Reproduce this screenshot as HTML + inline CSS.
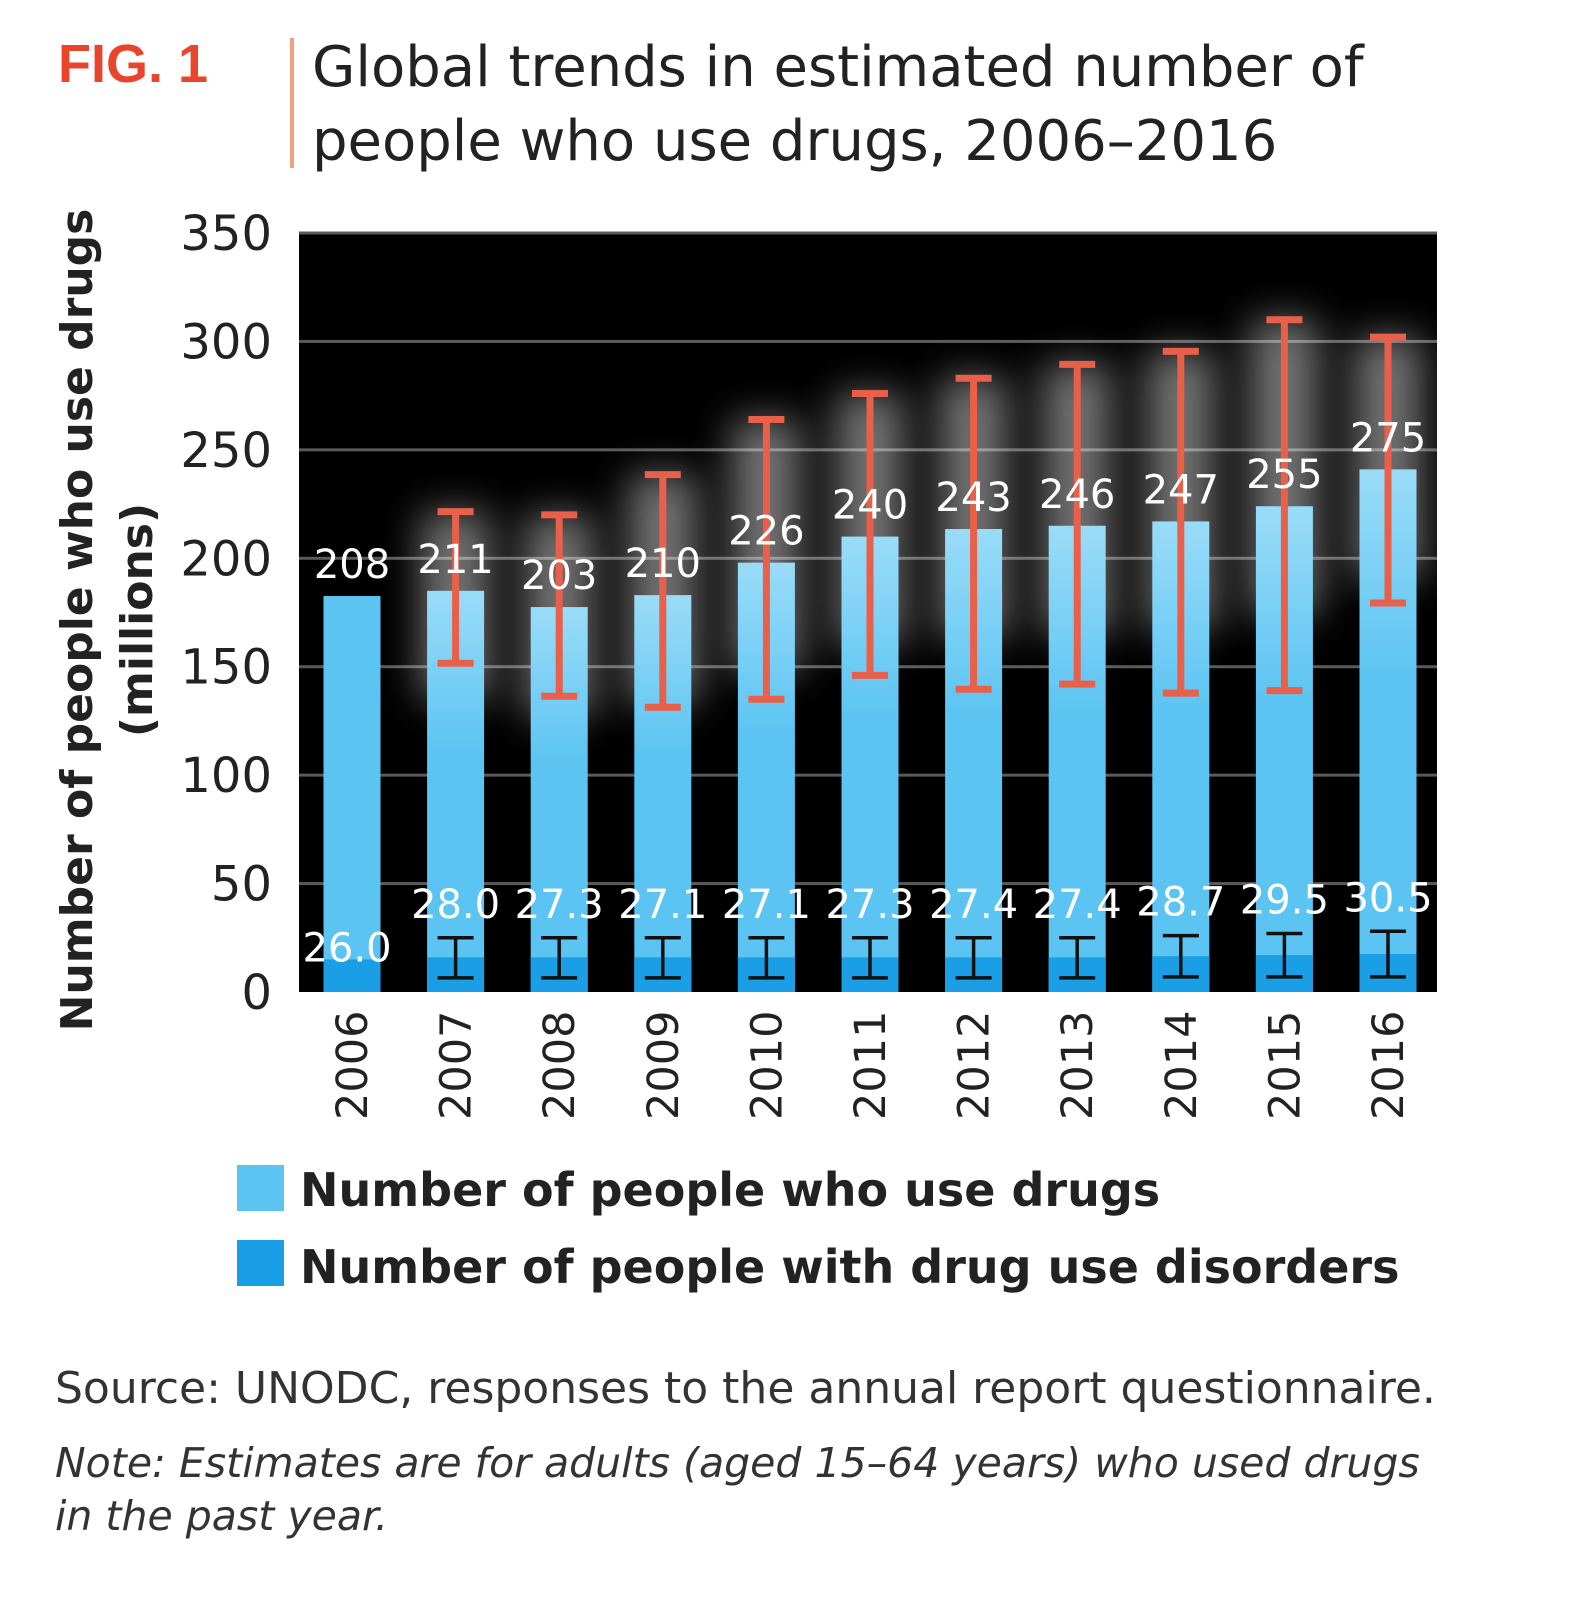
<!DOCTYPE html>
<html><head><meta charset="utf-8">
<style>
body{margin:0;background:#fff;width:1577px;height:1600px;overflow:hidden;font-family:"Liberation Sans",sans-serif;}
svg text{font-family:"DejaVu Sans","Liberation Sans",sans-serif;}
</style></head>
<body>
<svg id="chart" width="1577" height="1600" xmlns="http://www.w3.org/2000/svg">
<defs>
<linearGradient id="barGrad" x1="0" y1="0" x2="0" y2="1">
<stop offset="0" stop-color="#9adcf8"/><stop offset="0.4" stop-color="#5cc4f2"/><stop offset="1" stop-color="#5cc4f2"/>
</linearGradient>
<filter id="glow" x="-100%" y="-100%" width="300%" height="300%"><feGaussianBlur stdDeviation="20"/></filter>
</defs>
<text x="58" y="82" font-size="54" font-weight="bold" fill="#e8452c" style="font-family:'Liberation Sans',sans-serif">FIG. 1</text>
<rect x="290" y="38" width="4" height="130" fill="#f0a080"/>
<text x="312" y="86" font-size="56" fill="#222">Global trends in estimated number of</text>
<text x="312" y="160" font-size="56" fill="#222">people who use drugs, 2006–2016</text>
<rect x="299" y="233" width="1138" height="759" fill="#000"/>
<g id="grid"></g><g id="glows"></g><g id="bars"></g><g id="yticks"></g><g id="xticks"></g>
<text transform="translate(92,620) rotate(-90)" text-anchor="middle" font-size="44" font-weight="bold" fill="#222">Number of people who use drugs</text>
<text transform="translate(152,620) rotate(-90)" text-anchor="middle" font-size="44" font-weight="bold" fill="#222">(millions)</text>
<g>
<rect x="237" y="1165" width="47" height="46" fill="#5cc4f2"/>
<text x="300" y="1206" font-size="46" font-weight="bold" fill="#222">Number of people who use drugs</text>
<rect x="237" y="1240" width="47" height="46" fill="#1a9fe6"/>
<text x="300" y="1283" font-size="46" font-weight="bold" fill="#222">Number of people with drug use disorders</text>
</g>
<text x="55" y="1403" font-size="44" fill="#333">Source: UNODC, responses to the annual report questionnaire.</text>
<text x="55" y="1477" font-size="41" font-style="italic" fill="#333">Note: Estimates are for adults (aged 15–64 years) who used drugs</text>
<text x="55" y="1530" font-size="41" font-style="italic" fill="#333">in the past year.</text>
</svg>
<script>
const years=["2006","2007","2008","2009","2010","2011","2012","2013","2014","2015","2016"];
const usersLabel=["208","211","203","210","226","240","243","246","247","255","275"];
const usersDrawn=[182.6,185,177.5,183,198,210,213.5,215,217,224,241];
const usersHigh=[null,221.5,220,238.6,264,276,283,289.4,295.4,310,302];
const usersLow=[null,151.6,136.4,131.3,135,146,139.6,142,137.8,139,179.4];
const disordersLabel=["26.0","28.0","27.3","27.1","27.1","27.3","27.4","27.4","28.7","29.5","30.5"];
const disordersDrawn=[15,16,16,16,16,16,16,16,16.5,17,17.5];
const disordersHigh=[null,25,25,25,25,25,25,25,26,27,28];
const disordersLow=[null,6.5,6.5,6.5,6.5,6.5,6.5,6.5,7,7,7];
const yTicks=[0,50,100,150,200,250,300,350];
const NS="http://www.w3.org/2000/svg";
const y=v=>992-v*(759/350);
const xc=i=>352+i*103.6;
const BW=57;
function mk(p,tag,at,txt){const e=document.createElementNS(NS,tag);for(const k in at)e.setAttribute(k,at[k]);if(txt!=null)e.textContent=txt;document.getElementById(p).appendChild(e);return e;}
yTicks.forEach(t=>{
 if(t>0){const g=mk('grid','rect',{x:299,y:y(t)-1.5,width:1138,height:3,fill:'#5a5a5a'});
 
 }
 const l=mk('yticks','text',{x:272,y:y(t)+17,'text-anchor':'end','font-size':48,fill:'#222'},String(t));
 
 
});
years.forEach((yr,i)=>{
 const cx=xc(i);
 if(usersHigh[i]!=null){const gl=mk('glows','rect',{x:cx-34,y:y(usersHigh[i]),width:68,height:y(usersDrawn[i]-50)-y(usersHigh[i]),fill:'#fff',opacity:0.45,filter:'url(#glow)'});
 
 }
 const b=mk('bars','rect',{x:cx-BW/2,y:y(usersDrawn[i]),width:BW,height:y(0)-y(usersDrawn[i]),fill:i==0?'#5cc4f2':'url(#barGrad)'});
 
 
 const d=mk('bars','rect',{x:cx-BW/2,y:y(disordersDrawn[i]),width:BW,height:y(0)-y(disordersDrawn[i]),fill:'#1a9fe6'});
 
 
 if(usersHigh[i]!=null){
  const e=mk('bars','path',{d:`M${cx},${y(usersHigh[i])}V${y(usersLow[i])}M${cx-18},${y(usersHigh[i])}h36M${cx-18},${y(usersLow[i])}h36`,stroke:'#e8604a','stroke-width':7,fill:'none'});
  
  
  const f=mk('bars','path',{d:`M${cx},${y(disordersHigh[i])}V${y(disordersLow[i])}M${cx-18},${y(disordersHigh[i])}h36M${cx-18},${y(disordersLow[i])}h36`,stroke:'#111','stroke-width':3.5,fill:'none'});
  
  
 }
 const lu=mk('bars','text',{x:cx,y:y(usersDrawn[i])-18,'text-anchor':'middle','font-size':40,fill:'#fff'},usersLabel[i]);
 
 
 const ld=mk('bars','text',{x:cx-(i==0?5:0),y:i==0?y(disordersDrawn[i])+2:y(disordersHigh[i])-20,'text-anchor':'middle','font-size':40,fill:'#fff'},disordersLabel[i]);
 
 
 const xt=mk('xticks','text',{transform:`translate(${cx+15},1120) rotate(-90)`,'font-size':43,fill:'#222'},yr);
 
 
});
</script>
</body></html>
